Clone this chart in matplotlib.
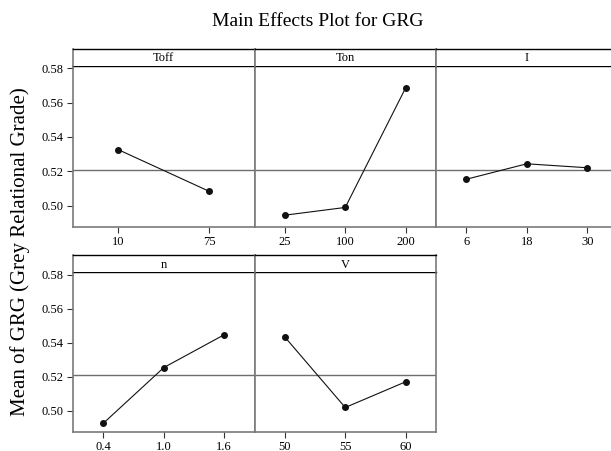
import matplotlib
matplotlib.use("Agg")
import matplotlib.pyplot as plt

# Data
factors = ["Toff", "Ton", "I", "n", "V"]
toff_levels = ["10", "75"]
toff_means = [0.5326, 0.5084]
ton_levels = ["25", "100", "200"]
ton_means = [0.4945, 0.4990, 0.5687]
i_levels = ["6", "18", "30"]
i_means = [0.5154, 0.5244, 0.5221]
n_levels = ["0.4", "1.0", "1.6"]
n_means = [0.4927, 0.5254, 0.5447]
v_levels = ["50", "55", "60"]
v_means = [0.5434, 0.5020, 0.5171]
grand_mean = 0.5208
y_ticks = [0.50, 0.52, 0.54, 0.56, 0.58]

panels = [
    (factors[0], toff_levels, toff_means),
    (factors[1], ton_levels, ton_means),
    (factors[2], i_levels, i_means),
    (factors[3], n_levels, n_means),
    (factors[4], v_levels, v_means),
]

W, H = 611, 451
fig = plt.figure(figsize=(W / 100, H / 100), dpi=100)

frame_gray = "#7a7a7a"
tick_font = dict(family="Liberation Serif", size=9)

left0 = 73
pw = 181.5
rows = [(66, 226.7, 49), (272.3, 431.7, 255)]  # (axes top, axes bottom, strip top) in px
ylim = (0.4878, 0.5813)

for idx, (name, levels, means) in enumerate(panels):
    r = 0 if idx < 3 else 1
    c = idx if idx < 3 else idx - 3
    top, bot, stop = rows[r]
    x0 = left0 + c * pw
    ax = fig.add_axes([x0 / W, 1 - bot / H, pw / W, (bot - top) / H])
    sax = fig.add_axes([x0 / W, 1 - top / H, pw / W, (top - stop) / H])
    xs = list(range(1, len(levels) + 1))
    ax.plot(xs, means, color="#111111", lw=0.8, marker="o", ms=4, zorder=3)
    ax.axhline(grand_mean, color="#6e6e6e", lw=1.0, zorder=1)
    ax.set_xlim(0.5, len(levels) + 0.5)
    ax.set_ylim(*ylim)
    ax.set_xticks(xs)
    ax.set_xticklabels(levels, fontdict=tick_font)
    ax.set_yticks(y_ticks)
    if c == 0:
        ax.set_yticklabels([f"{v:.2f}" for v in y_ticks], fontdict=tick_font)
    else:
        ax.tick_params(axis="y", left=False, labelleft=False)
    ax.tick_params(direction="out", length=4, width=0.8, color="#333333", pad=3)
    for sp in ax.spines.values():
        sp.set_color(frame_gray)
        sp.set_linewidth(1.2)
    ax.spines["top"].set_color("black")
    ax.spines["top"].set_linewidth(1.0)
    # strip
    sax.set_xticks([])
    sax.set_yticks([])
    for sp in sax.spines.values():
        sp.set_color(frame_gray)
        sp.set_linewidth(1.2)
    sax.spines["top"].set_color("black")
    sax.spines["top"].set_linewidth(1.0)
    sax.spines["bottom"].set_visible(False)
    sax.text(0.5, 0.45, name, ha="center", va="center", transform=sax.transAxes,
             family="Liberation Serif", size=9)

fig.text(318 / W, 1 - 22 / H, "Main Effects Plot for GRG", ha="center", va="center",
         family="Liberation Serif", size=14)
fig.text(20 / W, 1 - 252 / H, "Mean of GRG (Grey Relational Grade)", ha="center", va="center",
         rotation=90, family="Liberation Serif", size=15)

fig.savefig("out.png", dpi=100)
